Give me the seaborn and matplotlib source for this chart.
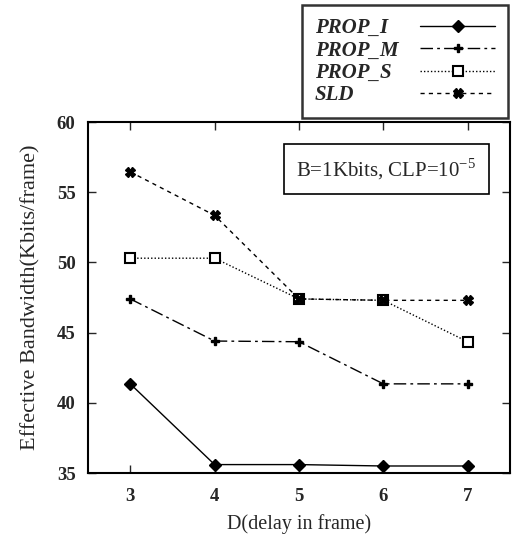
import matplotlib
matplotlib.use("Agg")
import matplotlib.pyplot as plt
import seaborn as sns
import pandas as pd

delay = [3, 4, 5, 6, 7]
prop_i = [41.35, 35.6, 35.6, 35.5, 35.5]
prop_m = [47.4, 44.4, 44.35, 41.35, 41.35]
prop_s = [50.3, 50.3, 47.4, 47.3, 44.35]
sld = [56.45, 53.35, 47.4, 47.3, 47.3]
series_names = ["PROP_I", "PROP_M", "PROP_S", "SLD"]
yticks = [35, 40, 45, 50, 55, 60]

sns.set_theme(style="ticks")
plt.rcParams["font.family"] = ["Liberation Serif", "DejaVu Serif"]

fig = plt.figure(figsize=(5.15, 5.38), dpi=100)
ax = fig.add_axes([0.171, 0.1208, 0.819, 0.6524])

styles = {
    "PROP_I": dict(marker="D", ls="-", ms=6, mfc="black"),
    "PROP_M": dict(marker="P", ls=(0, (9, 3, 2, 3)), ms=6, mfc="black"),
    "PROP_S": dict(marker="s", ls=(0, (1, 1.5)), ms=7, mfc="white"),
    "SLD": dict(marker="X", ls=(0, (3, 3)), ms=7, mfc="black"),
}
values = [prop_i, prop_m, prop_s, sld]
for name, vals in zip(series_names, values):
    df = pd.DataFrame({"x": delay, "y": vals})
    st = styles[name]
    sns.lineplot(data=df, x="x", y="y", ax=ax, color="black", lw=1.0,
                 linestyle=st["ls"], marker=st["marker"], markersize=st["ms"],
                 markerfacecolor=st["mfc"], markeredgecolor="black",
                 markeredgewidth=1.5 if name == "PROP_S" else 1.0, label=name)

ax.set_xlim(2.5, 7.5)
ax.set_ylim(35, 60)
ax.set_xticks(delay)
ax.set_yticks(yticks)
ax.tick_params(direction="in", length=6, width=1.0, top=True, right=True,
               labelsize=13.5)
ax.tick_params(axis="y", pad=9)
ax.tick_params(axis="x", pad=11)
for lab in ax.get_xticklabels() + ax.get_yticklabels():
    lab.set_fontweight("bold")
for sp in ax.spines.values():
    sp.set_linewidth(1.5)
    sp.set_color("black")
ax.set_xlabel("D(delay in frame)", fontsize=14.5, labelpad=6)
ax.set_ylabel("Effective Bandwidth(Kbits/frame)", fontsize=16, labelpad=12)

ax.text(0.707, 0.866, r"B=1Kbits, CLP=10$^{\mathregular{-5}}$", transform=ax.transAxes,
        ha="center", va="center", fontsize=15,
        bbox=dict(boxstyle="square,pad=0.6", fc="white", ec="black", lw=1.2))

h, l = ax.get_legend_handles_labels()
fs = 15
hpad = 1.05
leg = fig.legend(h, l, loc="upper right", bbox_to_anchor=(508 / 515, 1 - 5 / 538),
                 frameon=True, fancybox=False, edgecolor="black",
                 prop=dict(family=["Liberation Serif"], style="italic",
                           weight="bold", size=fs),
                 markerfirst=False, handlelength=3.6, labelspacing=0.12,
                 borderpad=0.62, handletextpad=hpad, borderaxespad=0)
leg.get_frame().set_linewidth(1.8)
if ax.get_legend() is not None:
    ax.get_legend().remove()

# left-align the labels while keeping the handles in one column
fig.canvas.draw()
renderer = fig.canvas.get_renderer()
widths = [t.get_window_extent(renderer).width for t in leg.get_texts()]
wmax = max(widths)
dpicor = renderer.points_to_pixels(1.0)
for col in leg._legend_handle_box.get_children():
    for row, w in zip(col.get_children(), widths):
        row.sep = hpad * fs + (wmax - w) / dpicor

fig.savefig("out.png", dpi=100)
